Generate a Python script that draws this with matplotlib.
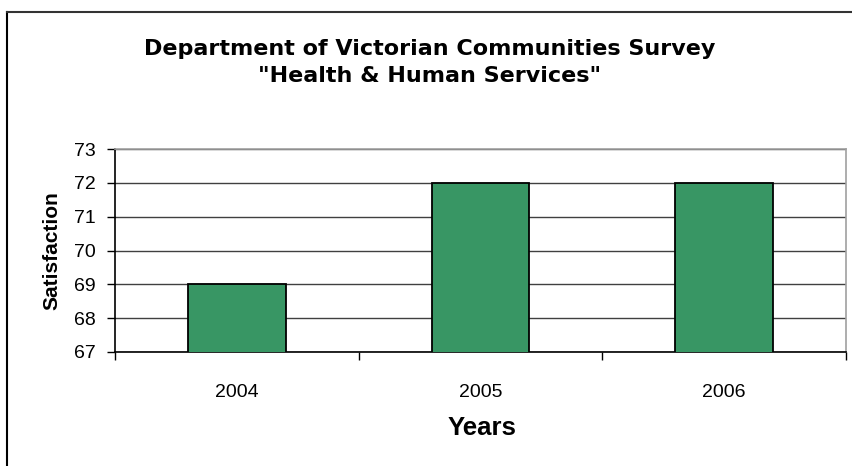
import matplotlib.pyplot as plt
from matplotlib.lines import Line2D

years = ['2004', '2005', '2006']
satisfaction = [69, 72, 72]
y_ticks = [67, 68, 69, 70, 71, 72, 73]

plt.rcParams['font.family'] = ['Liberation Sans', 'DejaVu Sans']

fig = plt.figure(figsize=(8.53, 4.66), dpi=100)
ax = fig.add_axes([115 / 853, 1 - 352 / 466, 731 / 853, 203 / 466])

x = range(len(years))
ax.bar(x, satisfaction, width=0.4, bottom=0, color='#389664',
       edgecolor='black', linewidth=1.3, zorder=3)

ax.set_ylim(67, 73)
ax.set_xlim(-0.5, len(years) - 0.5)
ax.set_yticks(y_ticks)
ax.set_yticklabels([str(v) for v in y_ticks], fontsize=14)
ax.set_xticks(list(x))
ax.set_xticklabels(years, fontsize=14)
ax.set_xticks([i - 0.5 for i in range(len(years) + 1)], minor=True)
ax.tick_params(axis='x', which='major', length=0, pad=23)
ax.tick_params(axis='x', which='minor', length=6, width=1, direction='out')
ax.tick_params(axis='y', length=6, width=1, pad=8, direction='out')

ax.yaxis.grid(True, color='#404040', linewidth=1, zorder=0)
ax.set_axisbelow(True)
for side in ['top', 'right']:
    ax.spines[side].set_color('#a0a0a0')
    ax.spines[side].set_linewidth(1.2)
for side in ['left', 'bottom']:
    ax.spines[side].set_color('black')
    ax.spines[side].set_linewidth(1.2)

ax.set_ylabel('Satisfaction', fontsize=15, fontweight='bold', labelpad=9)
fig.text(482 / 853, 1 - 428 / 466, 'Years', fontsize=18.5, fontweight='bold',
         ha='center', va='center')

title_font = dict(family='DejaVu Sans', fontsize=16, fontweight='bold',
                  ha='center', va='baseline')
fig.text(430 / 853, 1 - 55 / 466, 'Department of Victorian Communities Survey',
         **title_font)
fig.text(430 / 853, 1 - 82 / 466, '"Health & Human Services"', **title_font)

# outer chart border (cut off at right and bottom)
fig.add_artist(Line2D([7 / 853, 7 / 853], [0, 1 - 12 / 466], color='black',
                      linewidth=1.5, transform=fig.transFigure))
fig.add_artist(Line2D([7 / 853, 1], [1 - 12 / 466, 1 - 12 / 466], color='#333333',
                      linewidth=1.5, transform=fig.transFigure))

fig.savefig('out.png', dpi=100)
